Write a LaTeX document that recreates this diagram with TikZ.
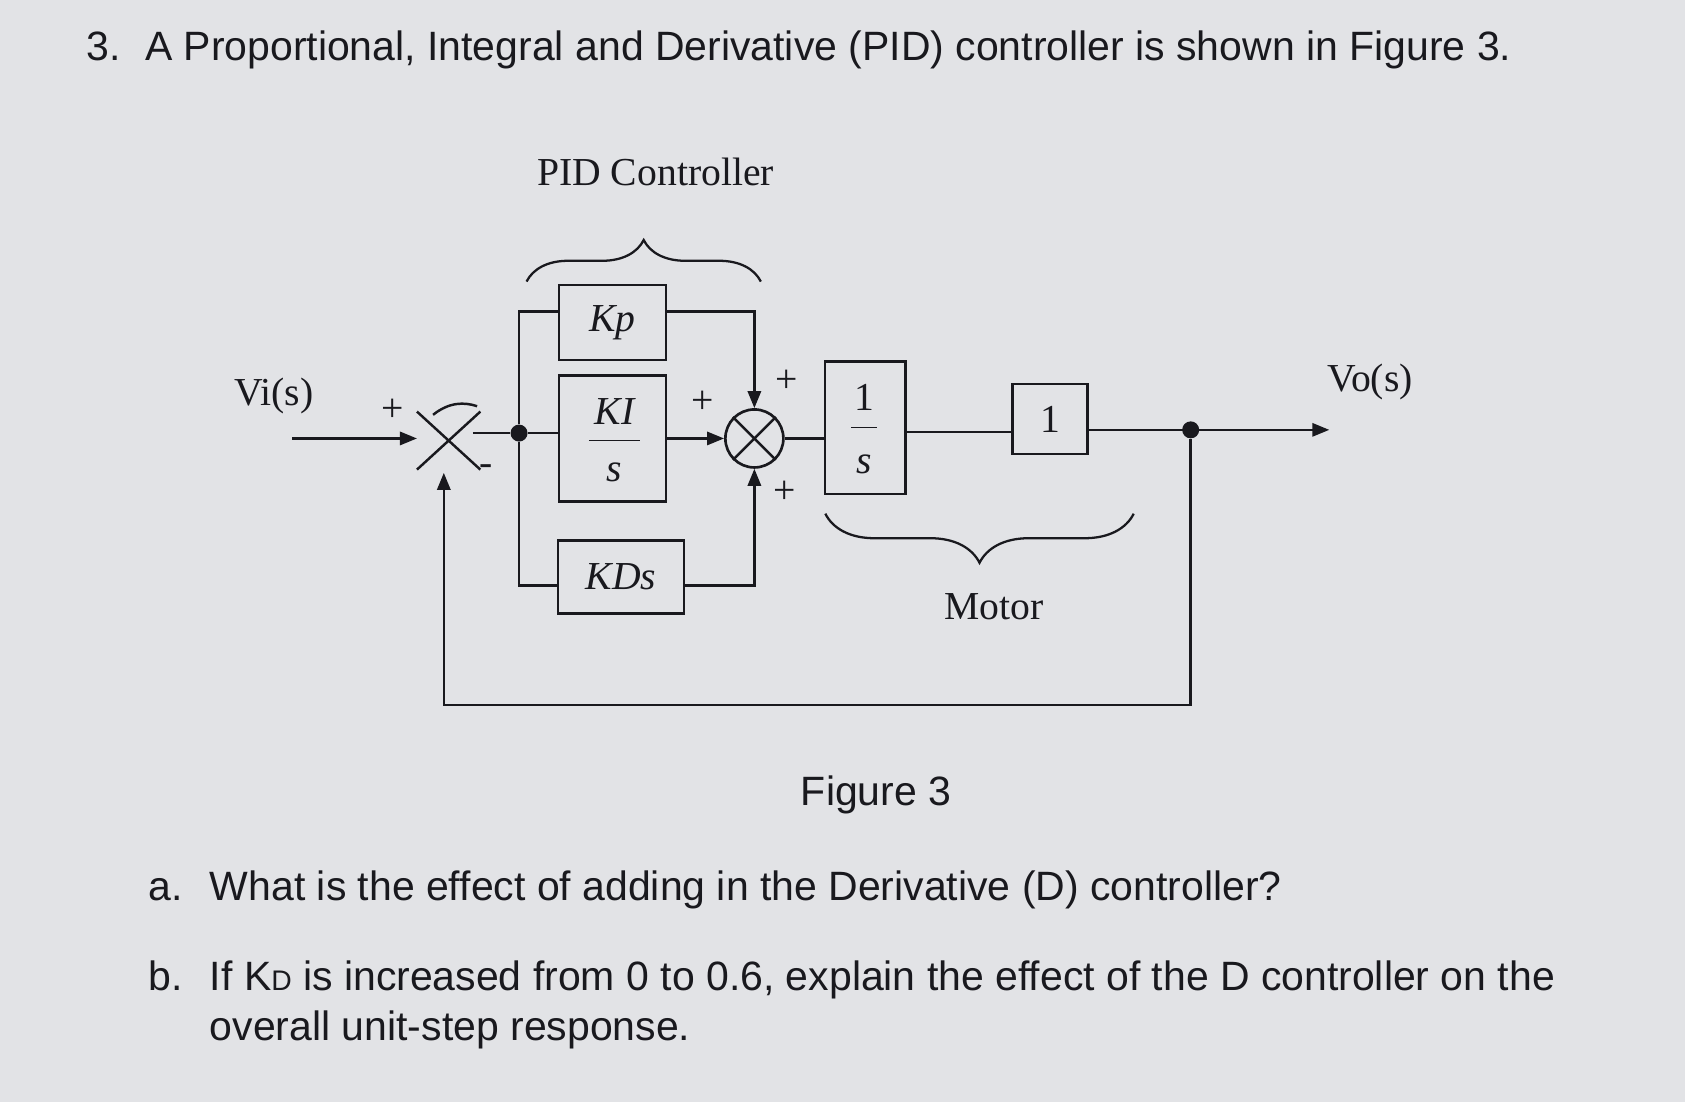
\documentclass[tikz,border=0pt]{standalone}
\usepackage{fontspec}
\setmainfont{Liberation Serif}
\newfontfamily\arialf{Liberation Sans}
\usetikzlibrary{arrows.meta,decorations.pathreplacing}
\definecolor{paper}{RGB}{226,227,230}
\definecolor{ink}{RGB}{25,25,30}
\begin{document}
\begin{tikzpicture}[x=0.02cm,y=-0.02cm,
  blk/.style={draw=ink,line width=1.3pt,minimum width=#1*0.02cm,inner sep=0},
  ln/.style={draw=ink,line width=1.3pt},
  arr/.style={ln,-{Triangle[length=9pt,width=7pt]}},
  lbl/.style={text=ink,font=\fontsize{21}{25}\selectfont},
  q/.style={text=ink,font=\arialf\fontsize{21.7}{26}\selectfont,anchor=base west,inner sep=0},
  dot/.style={circle,fill=ink,inner sep=0,minimum size=9pt}]
\fill[paper] (0,0) rectangle (1568,1025);
\useasboundingbox (0,0) rectangle (1568,1025);
% texts
\node[q] (t) at (80,56) {3.\hspace{0.6em}A Proportional, Integral and Derivative (PID) controller is shown in Figure 3.};
\node[q] (fig) at (745,750) {Figure 3};
\node[q] (qa) at (138,838) {a.};
\node[q] (qat) at (195,838) {What is the effect of adding in the Derivative (D) controller?};
\node[q] (qb) at (138,922) {b.};
\node[q] (qbt) at (195,922) {If K{\fontsize{15}{18}\selectfont D} is increased from 0 to 0.6, explain the effect of the D controller on the};
\node[q] (qbt2) at (195,968) {overall unit-step response.};
% diagram labels
\node[lbl] (pid) at (610,160) {PID Controller};
\node[lbl] (vi) at (255,368) {Vi(s)};
\node[lbl] (vo) at (1275,355) {Vo(s)};
\node[lbl] (motor) at (925,565) {Motor};
% blocks
\node[blk=100,minimum height=1.4cm,lbl] (kp) at (570,300) {\itshape Kp};
\node[blk=100,minimum height=2.34cm] (ki) at (570,408) {};
\node[lbl] at (572,383) {\itshape KI};
\draw[ln,line width=0.8pt] (548,410) -- (596,410);
\node[lbl] at (572,440) {\itshape s};
\node[blk=117,minimum height=1.36cm,lbl] (kd) at (578,537) {\itshape KDs};
\node[blk=75,minimum height=2.46cm] (int) at (805,398) {};
\node[lbl] at (804,370) {1};
\draw[ln,line width=0.8pt] (792,398) -- (816,398);
\node[lbl] at (804,432) {\itshape s};
\node[blk=70,minimum height=1.3cm,lbl] (one) at (977,390) {1};
% summing junctions
\node[circle,draw=ink,line width=1.4pt,minimum size=1.08cm,inner sep=0] (sum) at (702,408) {};
\draw[ln] (sum.north west) -- (sum.south east) (sum.north east) -- (sum.south west);
\draw[ln] (388,383) -- (447,437) (388,437) -- (447,383);
\draw[ln] (403,386) .. controls (418,374) and (432,374) .. (444,378);
% nodes
\node[dot] (d1) at (483,403) {};
\node[dot] (d2) at (1108,400) {};
\coordinate (vin) at (272,408);
\coordinate (vend) at (1237,400);
\node[lbl] at (365,382) {+};
\node[lbl] at (452,437) {-};
\node[lbl] at (654,374) {+};
\node[lbl] at (732,355) {+};
\node[lbl] at (730,458) {+};
% connectors
\draw[arr] (vin) -- (388,408);
\draw[ln] (440,403) -- (d1);
\draw[ln] (d1) -- (ki.west |- d1);
\draw[ln] (d1) |- (kp.west |- 0,290);
\draw[ln] (d1) |- (kd.west |- 0,545);
\draw[arr] (kp.east |- 0,290) -| (sum.north);
\draw[arr] (ki.east |- sum) -- (sum.west);
\draw[arr] (kd.east |- 0,545) -| (sum.south);
\draw[ln] (sum.east) -- (int.west |- sum);
\draw[ln] (int.east |- 0,402) -- (one.west |- 0,402);
\draw[arr] (one.east |- d2) -- (vend);
\draw[arr] (d2) |- (413,656) -- (413,440);
% braces
\draw[ln,line width=1.2pt,decorate,decoration={brace,amplitude=22pt}] (490,262) -- (708,262);
\draw[ln,line width=1.2pt,decorate,decoration={brace,amplitude=26pt,mirror}] (768,478) -- (1055,478);
\end{tikzpicture}
\end{document}
